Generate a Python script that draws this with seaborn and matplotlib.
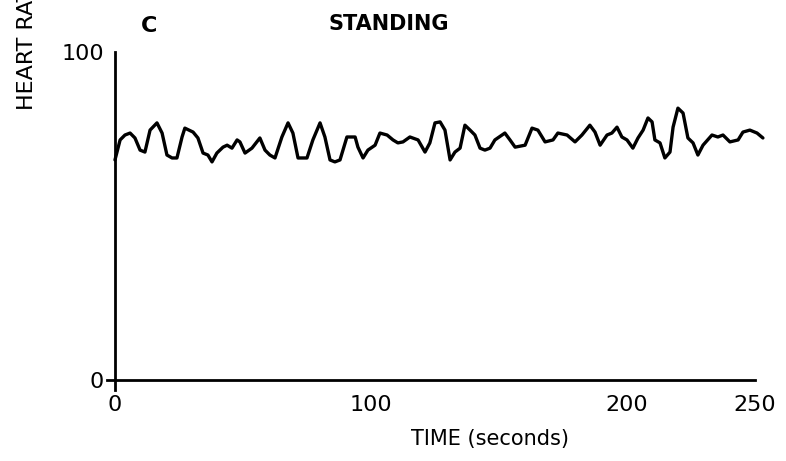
import matplotlib
matplotlib.use("Agg")
import matplotlib.pyplot as plt
import seaborn as sns
import pandas as pd

# heart rate trace (panel C, standing)
time_s = [0, 2.0, 3.9, 5.9, 7.8, 9.8, 11.7, 13.7, 16.4, 18.4, 20.3, 22.3, 24.2,
          26.2, 27.3, 30.5, 32.4, 34.4, 36.3, 37.9, 39.8, 42.2, 43.8, 45.7, 47.7,
          48.8, 50.8, 53.5, 56.6, 58.6, 60.5, 62.5, 65.2, 67.6, 69.5, 71.5, 75.0,
          77.3, 80.1, 82.0, 84.0, 85.9, 87.9, 90.6, 93.8, 94.9, 96.9, 98.8, 101.6,
          103.5, 106.3, 108.6, 110.5, 112.5, 115.2, 118.4, 121.1, 123.0, 125.0,
          127.0, 128.9, 130.9, 132.8, 134.8, 136.7, 138.7, 140.6, 142.6, 144.5,
          146.5, 148.4, 152.3, 154.3, 156.3, 160.2, 162.9, 165.2, 168.0, 171.1,
          173.0, 176.6, 179.7, 182.4, 185.5, 187.5, 189.5, 192.2, 194.1, 196.1,
          198.0, 200.0, 202.3, 204.3, 206.3, 208.2, 209.8, 210.9, 212.9, 214.8,
          216.8, 218.0, 219.9, 221.9, 223.8, 225.8, 227.7, 229.7, 233.2, 235.5,
          237.5, 240.2, 243.4, 245.3, 248.0, 250.8, 253.1]
heart_rate = [67.1, 73.2, 74.7, 75.3, 73.8, 70.1, 69.5, 76.2, 78.4, 75.3, 68.6, 67.7, 67.7,
              74.1, 76.8, 75.6, 73.8, 69.2, 68.6, 66.5, 69.2, 71.0, 71.6, 70.7, 73.2,
              72.6, 69.2, 70.7, 73.8, 70.1, 68.6, 67.7, 74.1, 78.4, 75.3, 67.7, 67.7,
              73.2, 78.4, 74.1, 67.1, 66.5, 67.1, 74.1, 74.1, 71.0, 67.7, 70.1, 71.6,
              75.3, 74.7, 73.2, 72.3, 72.6, 74.1, 73.2, 69.5, 72.3, 78.4,
              78.7, 76.2, 67.1, 69.5, 70.7, 77.7, 76.2, 74.7, 70.7, 70.1,
              70.7, 73.2, 75.3, 73.2, 71.0, 71.6, 76.8, 76.2, 72.6, 73.2,
              75.3, 74.7, 72.6, 74.7, 77.7, 75.6, 71.6, 74.7, 75.3, 77.1,
              74.1, 73.2, 70.7, 73.8, 76.2, 79.9, 78.7, 73.2, 72.3, 67.7,
              69.5, 77.1, 82.9, 81.4, 73.8, 72.3, 68.6, 71.6, 74.7, 74.1,
              74.7, 72.6, 73.2, 75.6, 76.2, 75.3, 73.8]

x_ticks = [0, 100, 200, 250]
y_ticks = [0, 100]

df = pd.DataFrame({"time": time_s, "hr": heart_rate})

sns.set_style("white")
plt.rcParams["font.family"] = ["DejaVu Sans"]
plt.rcParams["text.color"] = "black"
plt.rcParams["xtick.color"] = "black"
plt.rcParams["ytick.color"] = "black"
plt.rcParams["axes.labelcolor"] = "black"

fig = plt.figure(figsize=(7.86, 4.61), dpi=100)
ax = fig.add_axes([0.130, 0.1545, 0.8566, 0.761])

sns.lineplot(data=df, x="time", y="hr", ax=ax, color="black", linewidth=2.4)

ax.set_xlim(-5, 258)
ax.set_ylim(-3, 104)
for s in ["top", "right"]:
    ax.spines[s].set_visible(False)
ax.spines["left"].set_position(("data", 0))
ax.spines["bottom"].set_position(("data", 0))
ax.spines["left"].set_bounds(-3, 100)
ax.spines["bottom"].set_bounds(-3, 250)
for s in ["left", "bottom"]:
    ax.spines[s].set_linewidth(2)
    ax.spines[s].set_color("black")

ax.set_xticks(x_ticks)
ax.set_yticks(y_ticks)
ax.tick_params(axis="x", direction="in", length=7, width=1.6, labelsize=16, pad=11)
ax.tick_params(axis="y", direction="in", length=7, width=1.6, labelsize=16, pad=8)
ax.set_xlabel("TIME (seconds)", fontsize=15)
ax.xaxis.set_label_coords((490 - 102.2) / 673.3, -0.112)
ax.set_ylabel("")

ax.text(10, 108, "C", fontsize=16, fontweight="bold", ha="left", va="center")
ax.text(107, 108.5, "STANDING", fontsize=15, fontweight="bold", ha="center", va="center")
fig.text(27 / 786, 1 - 110 / 461, "HEART RATE (beats/min)", rotation=90,
         ha="center", va="bottom", fontsize=16)

fig.savefig("out.png", dpi=100, facecolor="white")
